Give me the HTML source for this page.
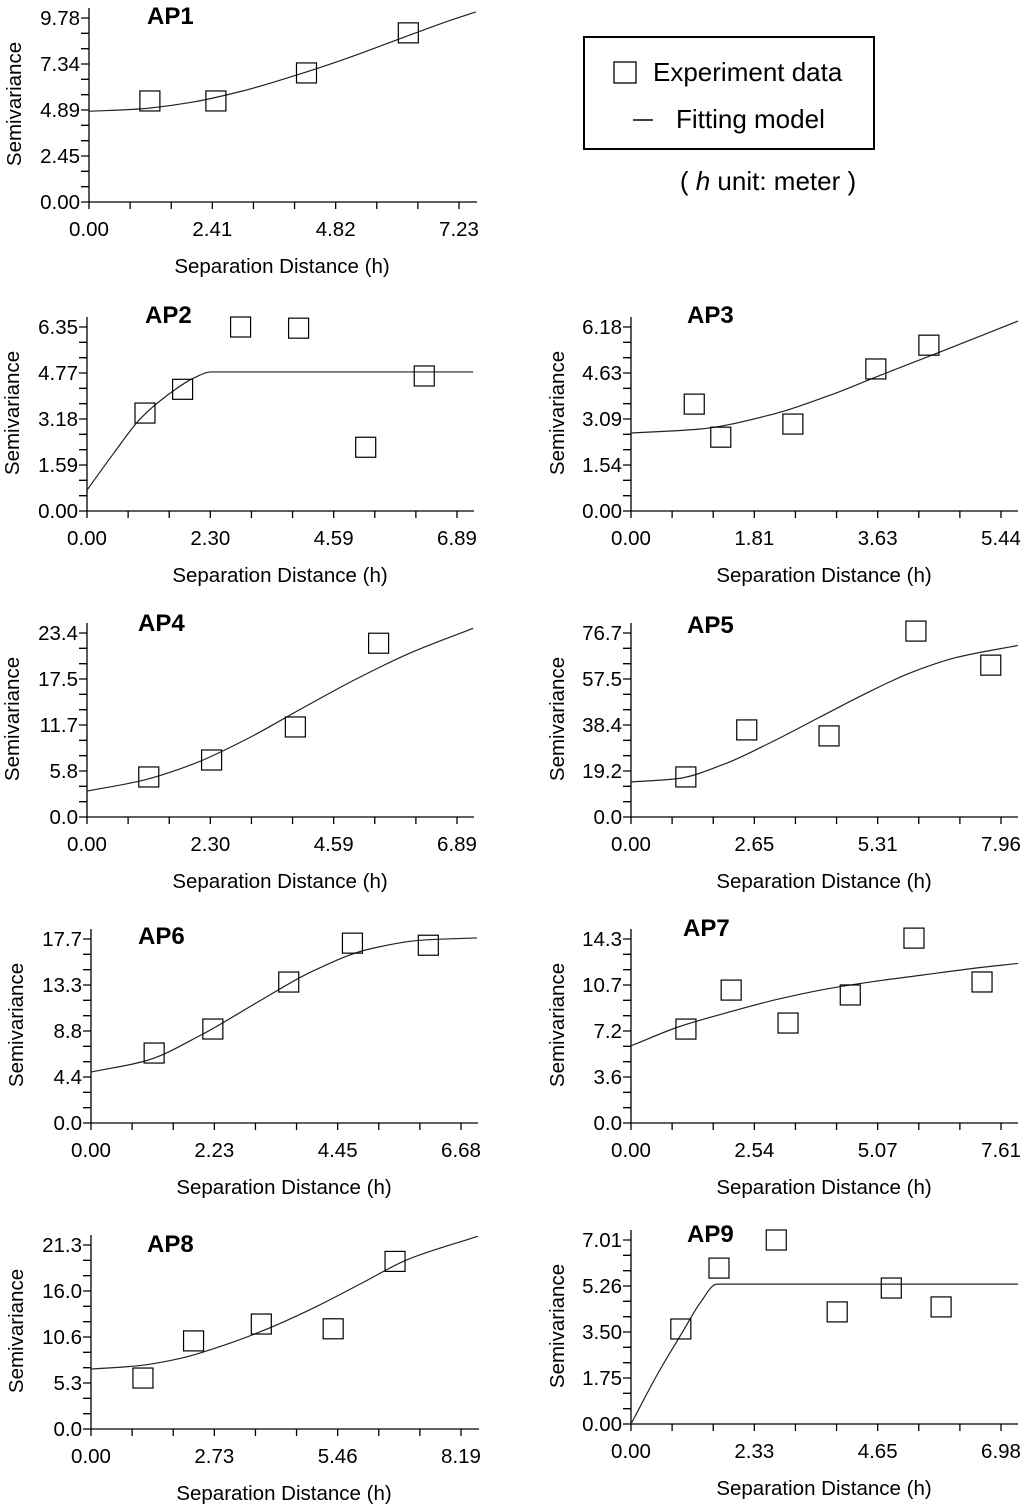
<!DOCTYPE html>
<html><head><meta charset="utf-8"><style>
html,body{margin:0;padding:0;background:#fff;}
svg{display:block;font-family:"Liberation Sans",Arial,sans-serif;}
</style></head><body>
<svg id="chart" width="1024" height="1508" viewBox="0 0 1024 1508">
<g>
<rect x="584" y="37" width="290" height="112" fill="none" stroke="#000" stroke-width="2"/>
<rect x="614" y="62" width="22" height="21" fill="none" stroke="#000" stroke-width="1.3"/>
<text x="653" y="81" font-size="26">Experiment data</text>
<line x1="633" y1="120" x2="653" y2="120" stroke="#000" stroke-width="1.5"/>
<text x="676" y="128" font-size="26">Fitting model</text>
<text x="768" y="190" font-size="26" text-anchor="middle">( <tspan font-style="italic">h</tspan> unit: meter )</text>
</g>
</svg>
<script>
// Panel data
const ap1PtsH=[1.19,2.48,4.25,6.24], ap1PtsG=[5.37,5.37,6.86,8.99];
const ap1ModH=[0,1,2,3,4,5,6,7,7.56], ap1ModG=[4.82,4.95,5.3,5.9,6.7,7.6,8.6,9.6,10.1];
const ap1Ticks=["0.00","2.41","4.82","7.23"], ap1YTicks=["0.00","2.45","4.89","7.34","9.78"];
const ap2PtsH=[1.08,1.78,2.86,3.94,5.19,6.28], ap2PtsG=[3.38,4.2,6.35,6.31,2.2,4.66];
const ap2ModH=[0,0.5,1.0,1.5,2.0,2.3,7.19], ap2ModG=[0.72,2.0,3.2,4.0,4.6,4.8,4.8];
const ap2Ticks=["0.00","2.30","4.59","6.89"], ap2YTicks=["0.00","1.59","3.18","4.77","6.35"];
const ap3PtsH=[0.93,1.32,2.38,3.60,4.38], ap3PtsG=[3.59,2.48,2.92,4.77,5.57];
const ap3ModH=[0,1,2,3,3.6,4.5,5.69], ap3ModG=[2.62,2.75,3.2,3.95,4.5,5.3,6.38];
const ap3Ticks=["0.00","1.81","3.63","5.44"], ap3YTicks=["0.00","1.54","3.09","4.63","6.18"];
const ap4PtsH=[1.15,2.32,3.88,5.43], ap4PtsG=[5.09,7.25,11.45,22.1];
const ap4ModH=[0,1,2,3,4,5,6,7.19], ap4ModG=[3.3,4.6,6.8,10.0,13.8,17.5,20.8,24.0];
const ap4Ticks=["0.00","2.30","4.59","6.89"], ap4YTicks=["0.0","5.8","11.7","17.5","23.4"];
const ap5PtsH=[1.18,2.49,4.26,6.13,7.74], ap5PtsG=[16.7,36.3,33.8,77.5,63.3];
const ap5ModH=[0,1,2,3,4,5,6,7,8.32], ap5ModG=[14.6,16,22,31,41,51,60,66.5,71.5];
const ap5Ticks=["0.00","2.65","5.31","7.96"], ap5YTicks=["0.0","19.2","38.4","57.5","76.7"];
const ap6PtsH=[1.14,2.2,3.57,4.72,6.09], ap6PtsG=[6.73,9.04,13.56,17.3,17.1];
const ap6ModH=[0,1,2,3,4,5,6,6.97], ap6ModG=[4.9,6.0,8.5,11.6,14.6,16.7,17.6,17.8];
const ap6Ticks=["0.00","2.23","4.45","6.68"], ap6YTicks=["0.0","4.4","8.8","13.3","17.7"];
const ap7PtsH=[1.13,2.06,3.23,4.51,5.82,7.22], ap7PtsG=[7.3,10.33,7.77,9.95,14.37,10.96];
const ap7ModH=[0,1,2,3,4,5,6,7,7.96], ap7ModG=[6.0,7.5,8.6,9.6,10.4,11.0,11.5,12.0,12.4];
const ap7Ticks=["0.00","2.54","5.07","7.61"], ap7YTicks=["0.0","3.6","7.2","10.7","14.3"];
const ap8PtsH=[1.15,2.27,3.77,5.36,6.73], ap8PtsG=[5.9,10.2,12.15,11.6,19.4];
const ap8ModH=[0,1,2,3,4,5,6,7,8.56], ap8ModG=[6.94,7.3,8.2,9.8,11.8,14.2,16.9,19.6,22.3];
const ap8Ticks=["0.00","2.73","5.46","8.19"], ap8YTicks=["0.0","5.3","10.6","16.0","21.3"];
const ap9PtsH=[0.94,1.66,2.74,3.89,4.91,5.85], ap9PtsG=[3.62,5.94,7.01,4.27,5.18,4.46];
const ap9ModH=[0,0.5,1.0,1.3,1.62,7.3], ap9ModG=[0,1.9,3.6,4.6,5.33,5.33];
const ap9Ticks=["0.00","2.33","4.65","6.98"], ap9YTicks=["0.00","1.75","3.50","5.26","7.01"];

const panels=[
 {n:"ap1",t:"AP1",ox:89,oy:202,tx:147,ty:24,ph:ap1PtsH,pg:ap1PtsG,mh:ap1ModH,mg:ap1ModG,xt:ap1Ticks,yt:ap1YTicks,right:477,ylab:14},
 {n:"ap2",t:"AP2",ox:87,oy:511,tx:145,ty:323,ph:ap2PtsH,pg:ap2PtsG,mh:ap2ModH,mg:ap2ModG,xt:ap2Ticks,yt:ap2YTicks,right:474,ylab:12},
 {n:"ap3",t:"AP3",ox:631,oy:511,tx:687,ty:323,ph:ap3PtsH,pg:ap3PtsG,mh:ap3ModH,mg:ap3ModG,xt:ap3Ticks,yt:ap3YTicks,right:1018,ylab:557},
 {n:"ap4",t:"AP4",ox:87,oy:817,tx:138,ty:631,ph:ap4PtsH,pg:ap4PtsG,mh:ap4ModH,mg:ap4ModG,xt:ap4Ticks,yt:ap4YTicks,right:474,ylab:12},
 {n:"ap5",t:"AP5",ox:631,oy:817,tx:687,ty:633,ph:ap5PtsH,pg:ap5PtsG,mh:ap5ModH,mg:ap5ModG,xt:ap5Ticks,yt:ap5YTicks,right:1018,ylab:557},
 {n:"ap6",t:"AP6",ox:91,oy:1123,tx:138,ty:944,ph:ap6PtsH,pg:ap6PtsG,mh:ap6ModH,mg:ap6ModG,xt:ap6Ticks,yt:ap6YTicks,right:478,ylab:16},
 {n:"ap7",t:"AP7",ox:631,oy:1123,tx:683,ty:936,ph:ap7PtsH,pg:ap7PtsG,mh:ap7ModH,mg:ap7ModG,xt:ap7Ticks,yt:ap7YTicks,right:1018,ylab:557},
 {n:"ap8",t:"AP8",ox:91,oy:1429,tx:147,ty:1252,ph:ap8PtsH,pg:ap8PtsG,mh:ap8ModH,mg:ap8ModG,xt:ap8Ticks,yt:ap8YTicks,right:479,ylab:16},
 {n:"ap9",t:"AP9",ox:631,oy:1424,tx:687,ty:1242,ph:ap9PtsH,pg:ap9PtsG,mh:ap9ModH,mg:ap9ModG,xt:ap9Ticks,yt:ap9YTicks,right:1018,ylab:557}
];
const NS="http://www.w3.org/2000/svg";
const svg=document.getElementById('chart');
function mk(tag,attrs,parent){const e=document.createElementNS(NS,tag);for(const k in attrs)e.setAttribute(k,attrs[k]);parent.appendChild(e);return e;}
// monotone cubic (Fritsch-Carlson) path
function monoPath(P){
 const n=P.length,dx=[],m=[],t=[];
 for(let i=0;i<n-1;i++){dx[i]=P[i+1][0]-P[i][0];m[i]=(P[i+1][1]-P[i][1])/dx[i];}
 t[0]=m[0];t[n-1]=m[n-2];
 for(let i=1;i<n-1;i++){ if(m[i-1]*m[i]<=0) t[i]=0; else {const w1=2*dx[i]+dx[i-1],w2=dx[i]+2*dx[i-1]; t[i]=(w1+w2)/(w1/m[i-1]+w2/m[i]);}}
 let d=`M${P[0][0]},${P[0][1]}`;
 for(let i=0;i<n-1;i++){const h=dx[i]/3;
  d+=`C${P[i][0]+h},${P[i][1]+t[i]*h} ${P[i+1][0]-h},${P[i+1][1]-t[i+1]*h} ${P[i+1][0]},${P[i+1][1]}`;}
 return d;
}
panels.forEach(p=>{
 const g=mk('g',{},svg);
 
 
 const W=370,H=184;
 const xMax=parseFloat(p.xt[3]),yMax=parseFloat(p.yt[4]);
 const sx=v=>p.ox+v/xMax*W, sy=v=>p.oy-v/yMax*H;
 const ax=mk('path',{d:`M${p.ox},${p.oy-H-10}V${p.oy}H${p.right}`,fill:'none',stroke:'#000','stroke-width':1.3},g);
 
 
 let d='';
 for(let i=0;i<=12;i++){const y=p.oy-H*i/12;d+=`M${p.ox-8},${y}H${p.ox}`;}
 for(let i=0;i<=9;i++){const x=p.ox+W*i/9;d+=`M${x},${p.oy}V${p.oy+7}`;}
 const tk=mk('path',{d:d,stroke:'#000','stroke-width':1.3,fill:'none'},g);
 
 
 p.yt.forEach((s,i)=>{const t=mk('text',{x:p.ox-9,y:p.oy-H*i/4+7,'font-size':20.5,'text-anchor':'end'},g);t.textContent=s;
  
  });
 p.xt.forEach((s,i)=>{const t=mk('text',{x:p.ox+W*i/3,y:p.oy+34,'font-size':20.5,'text-anchor':'middle'},g);t.textContent=s;
  
  });
 const xt=mk('text',{x:p.ox+193,y:p.oy+71,'font-size':20.5,'text-anchor':'middle'},g);xt.textContent='Separation Distance (h)';
 
 
 const cy=p.oy-H/2-6;
 const yt=mk('text',{x:0,y:0,'font-size':20.5,'text-anchor':'middle',transform:`translate(${p.ylab+7},${cy}) rotate(-90)`},g);yt.textContent='Semivariance';
 
 
 const ti=mk('text',{x:p.tx,y:p.ty,'font-size':24,'font-weight':'bold'},g);ti.textContent=p.t;
 
 
 const pts=p.mh.map((h,i)=>[sx(h),sy(p.mg[i])]);
 const ln=mk('path',{d:monoPath(pts),fill:'none',stroke:'#222','stroke-width':1.2},g);
 
 
 p.ph.forEach((h,i)=>{const r=mk('rect',{x:sx(h)-10,y:sy(p.pg[i])-10,width:20,height:20,fill:'none',stroke:'#000','stroke-width':1.2},g);
  
  });
});
</script>
</body></html>
